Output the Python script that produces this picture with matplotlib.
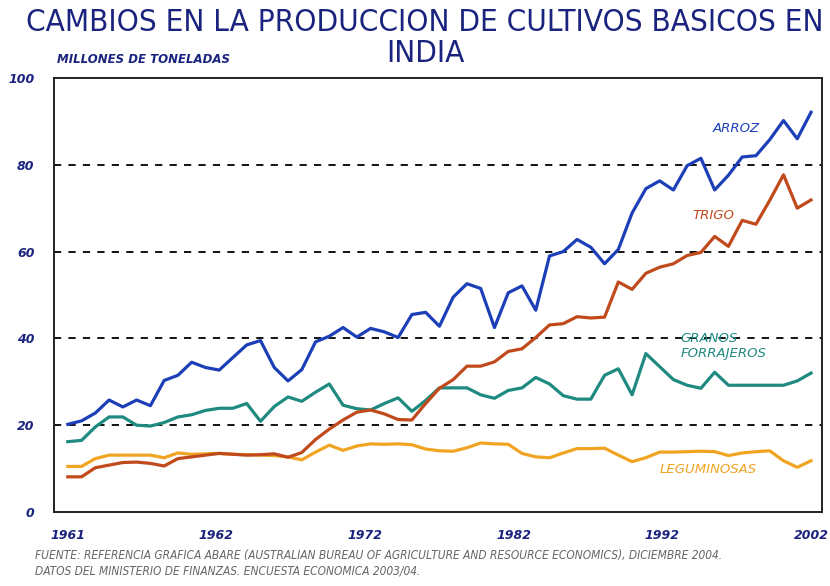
import numpy as np
import matplotlib
matplotlib.use("Agg")
import matplotlib.pyplot as plt

# serie anual (indice de campaña), millones de toneladas
periodo = np.arange(55)

arroz = [20.2, 21.0, 22.8, 25.8, 24.2, 25.8, 24.5, 30.3, 31.5, 34.5,
         33.3, 32.7, 35.6, 38.5, 39.5, 33.3, 30.2, 32.8, 39.2, 40.5,
         42.5, 40.3, 42.3, 41.5, 40.2, 45.5, 46.0, 42.8, 49.5, 52.6,
         51.5, 42.5, 50.5, 52.1, 46.5, 59.0, 60.0, 62.8, 61.0, 57.2,
         60.5, 68.9, 74.5, 76.3, 74.2, 79.8, 81.5, 74.2, 77.6, 81.8,
         82.1, 85.8, 90.2, 86.0, 92.1]

trigo = [8.1, 8.1, 10.2, 10.8, 11.4, 11.5, 11.2, 10.6, 12.3, 12.7,
         13.1, 13.5, 13.3, 13.1, 13.2, 13.4, 12.6, 13.7, 16.7, 19.1,
         21.2, 23.0, 23.5, 22.6, 21.3, 21.2, 25.0, 28.5, 30.5, 33.6,
         33.6, 34.6, 37.0, 37.6, 40.2, 43.1, 43.4, 45.0, 44.7, 44.9,
         53.0, 51.3, 55.0, 56.4, 57.2, 59.1, 59.8, 63.5, 61.2, 67.2,
         66.3, 71.8, 77.7, 70.0, 71.9]

granos = [16.2, 16.5, 19.6, 21.9, 21.9, 20.0, 19.8, 20.6, 21.9, 22.4,
          23.4, 23.9, 23.9, 25.0, 20.9, 24.3, 26.5, 25.5, 27.6, 29.5,
          24.6, 23.8, 23.5, 25.0, 26.3, 23.2, 25.7, 28.6, 28.6, 28.6,
          27.0, 26.2, 28.0, 28.6, 31.0, 29.5, 26.8, 26.0, 26.0, 31.5,
          33.0, 27.0, 36.5, 33.5, 30.5, 29.2, 28.5, 32.2, 29.2, 29.2,
          29.2, 29.2, 29.2, 30.2, 32.0]

legumbres = [10.5, 10.5, 12.3, 13.1, 13.1, 13.1, 13.1, 12.5, 13.6, 13.3,
             13.4, 13.5, 13.3, 13.2, 13.1, 13.0, 12.7, 12.0, 13.8, 15.4,
             14.2, 15.2, 15.7, 15.6, 15.7, 15.5, 14.5, 14.1, 14.0, 14.8,
             15.9, 15.7, 15.6, 13.5, 12.7, 12.5, 13.6, 14.6, 14.6, 14.7,
             13.1, 11.6, 12.5, 13.8, 13.8, 13.9, 14.0, 13.9, 13.0, 13.6,
             13.9, 14.1, 11.8, 10.3, 11.8]

etiquetas_x = ["1961", "1962", "1972", "1982", "1992", "2002"]
valores_y = [0, 20, 40, 60, 80, 100]

azul = "#1c3fb8"
rojo = "#c04a1c"
verde = "#1f8a80"
naranja = "#f0a422"
marino = "#1a237e"

fig = plt.figure(figsize=(8.3, 5.86), dpi=100)
ax = fig.add_axes([0.0651, 0.1263, 0.9253, 0.7406])

ax.plot(periodo, granos, color=verde, lw=2.3)
ax.plot(periodo, legumbres, color=naranja, lw=2.3)
ax.plot(periodo, trigo, color=rojo, lw=2.3)
ax.plot(periodo, arroz, color=azul, lw=2.3)

ax.set_xlim(-1, 54.8)
ax.set_ylim(0, 100)
for v in [20, 40, 60, 80]:
    ax.axhline(v, color="black", lw=1.3, ls=(0, (4, 4)), zorder=0)

ax.set_xticks(np.linspace(0, 54, 6))
ax.set_xticklabels(etiquetas_x)
ax.set_yticks(valores_y)
ax.set_yticklabels([str(v) for v in valores_y])
ax.tick_params(length=0)
ax.tick_params(axis="x", pad=12)
ax.tick_params(axis="y", pad=14)
for lab in ax.get_xticklabels() + ax.get_yticklabels():
    lab.set_fontweight("heavy")
    lab.set_fontstyle("italic")
    lab.set_color(marino)
    lab.set_fontsize(9)

for s in ax.spines.values():
    s.set_linewidth(1.4)
    s.set_color("#222222")

# titulo y textos
fig.text(0.512, 0.962, "CAMBIOS EN LA PRODUCCION DE CULTIVOS BASICOS EN",
         ha="center", va="center", fontsize=22.5, color=marino,
         fontstretch="condensed")
fig.text(0.512, 0.909, "INDIA", ha="center", va="center", fontsize=22.5,
         color=marino, fontstretch="condensed")
fig.text(0.069, 0.898, "MILLONES DE TONELADAS", ha="left", va="center",
         fontsize=8.5, fontweight="bold", fontstyle="italic", color=marino)

fig.text(0.042, 0.039,
         "FUENTE: REFERENCIA GRAFICA ABARE (AUSTRALIAN BUREAU OF AGRICULTURE AND RESOURCE ECONOMICS), DICIEMBRE 2004.\n"
         "DATOS DEL MINISTERIO DE FINANZAS. ENCUESTA ECONOMICA 2003/04.",
         ha="left", va="center", fontsize=8.6, fontstyle="italic",
         color="#666666", fontstretch="condensed", linespacing=1.2)

ax.text(48.6, 88.3, "ARROZ", color=azul, fontsize=9.5, fontstyle="italic",
        ha="center", va="center")
ax.text(46.9, 68.3, "TRIGO", color=rojo, fontsize=9.5, fontstyle="italic",
        ha="center", va="center")
ax.text(44.5, 38.3, "GRANOS\nFORRAJEROS", color=verde, fontsize=9.5,
        fontstyle="italic", ha="left", va="center", linespacing=1.15)
ax.text(46.5, 9.9, "LEGUMINOSAS", color=naranja, fontsize=9.5,
        fontstyle="italic", ha="center", va="center")

fig.savefig("out.png", dpi=100)
